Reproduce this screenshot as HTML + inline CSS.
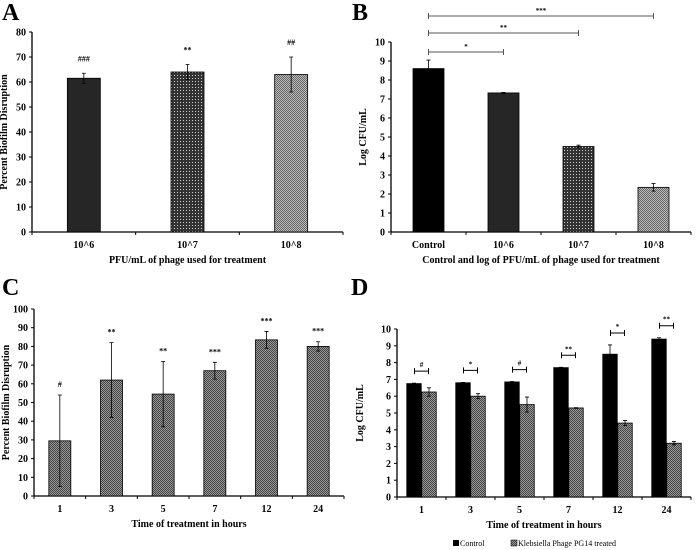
<!DOCTYPE html>
<html><head><meta charset="utf-8"><style>
body{margin:0;background:#fff}
svg{display:block;font-family:"Liberation Serif",serif;font-weight:bold}
</style></head><body>
<svg id="fig" width="696" height="550" viewBox="0 0 696 550">
<defs>
<pattern id="pDark" width="3" height="3" patternUnits="userSpaceOnUse"><rect width="3" height="3" fill="#333"/><rect width="1" height="1" fill="#ccc"/></pattern>
<pattern id="pMid" width="2" height="2" patternUnits="userSpaceOnUse"><rect width="2" height="2" fill="#999"/><rect width="1" height="1" fill="#444"/><rect x="1" y="1" width="1" height="1" fill="#444"/></pattern>
<pattern id="pLight" width="2" height="2" patternUnits="userSpaceOnUse"><rect width="2" height="2" fill="#bbb"/><rect width="1" height="1" fill="#666"/><rect x="1" y="1" width="1" height="1" fill="#666"/></pattern>
</defs>
<g id="root"></g>
</svg>
<script>
// Panel A data
const aCats=["10^6","10^7","10^8"];
const aVals=[61.5,64,63];
const aErr=[2,3,7];
const aSig=["###","**","##"];
const aTicks=[0,10,20,30,40,50,60,70,80];
// Panel B data
const bCats=["Control","10^6","10^7","10^8"];
const bVals=[8.6,7.32,4.5,2.35];
const bErr=[0.45,0.03,0.07,0.2];
const bTicks=[0,1,2,3,4,5,6,7,8,9,10];
// Panel C data
const cCats=["1","3","5","7","12","24"];
const cVals=[29.5,62,54.5,67,83.5,80];
const cErr=[24.5,20,17.5,4.5,4.5,2.5];
const cSig=["#","**","**","***","***","***"];
const cTicks=[0,10,20,30,40,50,60,70,80,90,100];
// Panel D data
const dCats=["1","3","5","7","12","24"];
const dControl=[6.75,6.8,6.85,7.7,8.5,9.4];
const dControlErr=[0.03,0.02,0.02,0.02,0.55,0.08];
const dTreated=[6.25,6.0,5.5,5.3,4.4,3.2];
const dTreatedErr=[0.25,0.15,0.45,0.02,0.15,0.1];
const dSig=["#","*","#","**","*","**"];
const dTicks=[0,1,2,3,4,5,6,7,8,9,10];

const NS="http://www.w3.org/2000/svg";
const root=document.getElementById('root');
function mk(tag,attrs,parent,text){const e=document.createElementNS(NS,tag);for(const k in attrs)e.setAttribute(k,attrs[k]);if(text!==undefined)e.textContent=text;(parent||root).appendChild(e);return e;}

function panel(cfg){
  const g=mk('g',{});
  
  
  const y=v=>cfg.y0-(v-0)*(cfg.y0-cfg.y1)/cfg.max;
  const lab=mk('text',{x:cfg.lx,y:cfg.ly,'font-size':24},g,cfg.letter);
  
  
  // axes
  const ya=mk('line',{x1:cfg.ax,y1:cfg.y1,x2:cfg.ax,y2:cfg.y0,stroke:'#000','stroke-width':1.3},g);
  
  
  const xa=mk('line',{x1:cfg.ax,y1:cfg.y0,x2:cfg.axEnd,y2:cfg.y0,stroke:'#000','stroke-width':1.3},g);
  
  
  cfg.ticks.forEach(t=>{
    mk('line',{x1:cfg.ax-3,y1:y(t),x2:cfg.ax,y2:y(t),stroke:'#000'},g);
    const tl=mk('text',{x:cfg.ax-6,y:y(t)+3.5,'font-size':10,'text-anchor':'end'},g,String(t));
    
    
  });
  const n=cfg.cats.length, step=(cfg.axEnd-cfg.ax)/n;
  for(let i=0;i<=n;i++) mk('line',{x1:cfg.ax+i*step,y1:cfg.y0,x2:cfg.ax+i*step,y2:cfg.y0+3,stroke:'#000'},g);
  cfg.cats.forEach((c,i)=>{
    const tl=mk('text',{x:cfg.ax+(i+0.5)*step,y:cfg.y0+16,'font-size':10,'text-anchor':'middle'},g,c);
    
    
  });
  const xt=mk('text',{x:(cfg.ax+cfg.axEnd)/2,y:cfg.y0+31,'font-size':10,'text-anchor':'middle'},g,cfg.xTitle);
  
  
  const yt=mk('text',{x:0,y:0,'font-size':10,'text-anchor':'middle',transform:`translate(${cfg.ytx},${(cfg.y0+cfg.y1)/2}) rotate(-90)`},g,cfg.yTitle);
  
  
  return {g,y,step};
}
function bar(g,cx,w,v,e,fill,y,name){
  const r=mk('rect',{x:cx-w/2,y:y(v),width:w,height:y(0)-y(v),fill:fill,stroke:'#000','stroke-width':0.8},g);
  
  
  const eb=mk('path',{d:`M${cx},${y(v+e)}V${y(v-e)}M${cx-2},${y(v+e)}H${cx+2}M${cx-2},${y(v-e)}H${cx+2}`,stroke:'#000','stroke-width':0.8,fill:'none'},g);
  
  
}

// A
(function(){
  const cfg={name:'panel-a',letter:'A',lx:2,ly:20,ax:32,axEnd:343,y0:232,y1:32,max:80,ticks:aTicks,cats:aCats,xTitle:'PFU/mL of phage used for treatment',yTitle:'Percent Biofilm Disruption',ytx:7};
  const p=panel(cfg);const fills=['#262626','url(#pDark)','url(#pLight)'];
  aCats.forEach((c,i)=>{const cx=cfg.ax+(i+0.5)*p.step;bar(p.g,cx,33,aVals[i],aErr[i],fills[i],p.y,'bar-'+c);
    const s=mk('text',{x:cx,y:p.y(aVals[i]+aErr[i])-12,'font-size':8,'text-anchor':'middle'},p.g,aSig[i]);
    
    });
})();
// B
(function(){
  const cfg={name:'panel-b',letter:'B',lx:352,ly:20,ax:391,axEnd:691,y0:232,y1:42,max:10,ticks:bTicks,cats:bCats,xTitle:'Control and log of PFU/mL of phage used for treatment',yTitle:'Log CFU/mL',ytx:366};
  const p=panel(cfg);const fills=['#000','#262626','url(#pDark)','url(#pLight)'];
  const cxs=bCats.map((c,i)=>cfg.ax+(i+0.5)*p.step);
  bCats.forEach((c,i)=>bar(p.g,cxs[i],31,bVals[i],bErr[i],fills[i],p.y,'bar-'+c));
  const bys=[52,33,16],bl=['*','**','***'];
  [1,2,3].forEach((j,k)=>{
    const br=mk('path',{d:`M${cxs[0]},${bys[k]-3}V${bys[k]+3}M${cxs[0]},${bys[k]}H${cxs[j]}M${cxs[j]},${bys[k]-3}V${bys[k]+3}`,stroke:'#555',fill:'none'},p.g);
    
    
    const s=mk('text',{x:(cxs[0]+cxs[j])/2,y:bys[k]-3,'font-size':7,'text-anchor':'middle'},p.g,bl[k]);
    
    
  });
})();
// C
(function(){
  const cfg={name:'panel-c',letter:'C',lx:2,ly:295,ax:34,axEnd:344,y0:496,y1:309,max:100,ticks:cTicks,cats:cCats,xTitle:'Time of treatment in hours',yTitle:'Percent Biofilm Disruption',ytx:9};
  const p=panel(cfg);
  cCats.forEach((c,i)=>{const cx=cfg.ax+(i+0.5)*p.step;bar(p.g,cx,22,cVals[i],cErr[i],'url(#pMid)',p.y,'bar-'+c+'h');
    const s=mk('text',{x:cx,y:p.y(cVals[i]+cErr[i])-8,'font-size':8,'text-anchor':'middle'},p.g,cSig[i]);
    
    });
})();
// D
(function(){
  const cfg={name:'panel-d',letter:'D',lx:351,ly:295,ax:397,axEnd:691,y0:497,y1:329,max:10,ticks:dTicks,cats:dCats,xTitle:'Time of treatment in hours',yTitle:'Log CFU/mL',ytx:363};
  const p=panel(cfg);
  dCats.forEach((c,i)=>{const cx=cfg.ax+(i+0.5)*p.step;
    bar(p.g,cx-7.5,14.5,dControl[i],dControlErr[i],'#000',p.y,'bar-control-'+c+'h');
    bar(p.g,cx+7.5,14.5,dTreated[i],dTreatedErr[i],'url(#pMid)',p.y,'bar-treated-'+c+'h');
    const top=Math.max(dControl[i]+dControlErr[i],dTreated[i]+dTreatedErr[i]);
    const by=p.y(top)-12;
    const br=mk('path',{d:`M${cx-7},${by-3}V${by+3}M${cx-7},${by}H${cx+7}M${cx+7},${by-3}V${by+3}`,stroke:'#000',fill:'none'},p.g);
    
    
    const s=mk('text',{x:cx,y:by-4,'font-size':7,'text-anchor':'middle'},p.g,dSig[i]);
    
    
  });
  const lg=mk('g',{},p.g);
  
  
  mk('rect',{x:453,y:540,width:6,height:6,fill:'#000'},lg);
  const l1=mk('text',{x:460,y:546,'font-size':8,'font-weight':'normal'},lg,'Control');
  
  
  mk('rect',{x:511,y:540,width:6,height:6,fill:'url(#pMid)',stroke:'#000','stroke-width':0.5},lg);
  const l2=mk('text',{x:518,y:546,'font-size':8,'font-weight':'normal'},lg,'Klebsiella Phage PG14 treated');
  
  
})();
</script>
</body></html>
